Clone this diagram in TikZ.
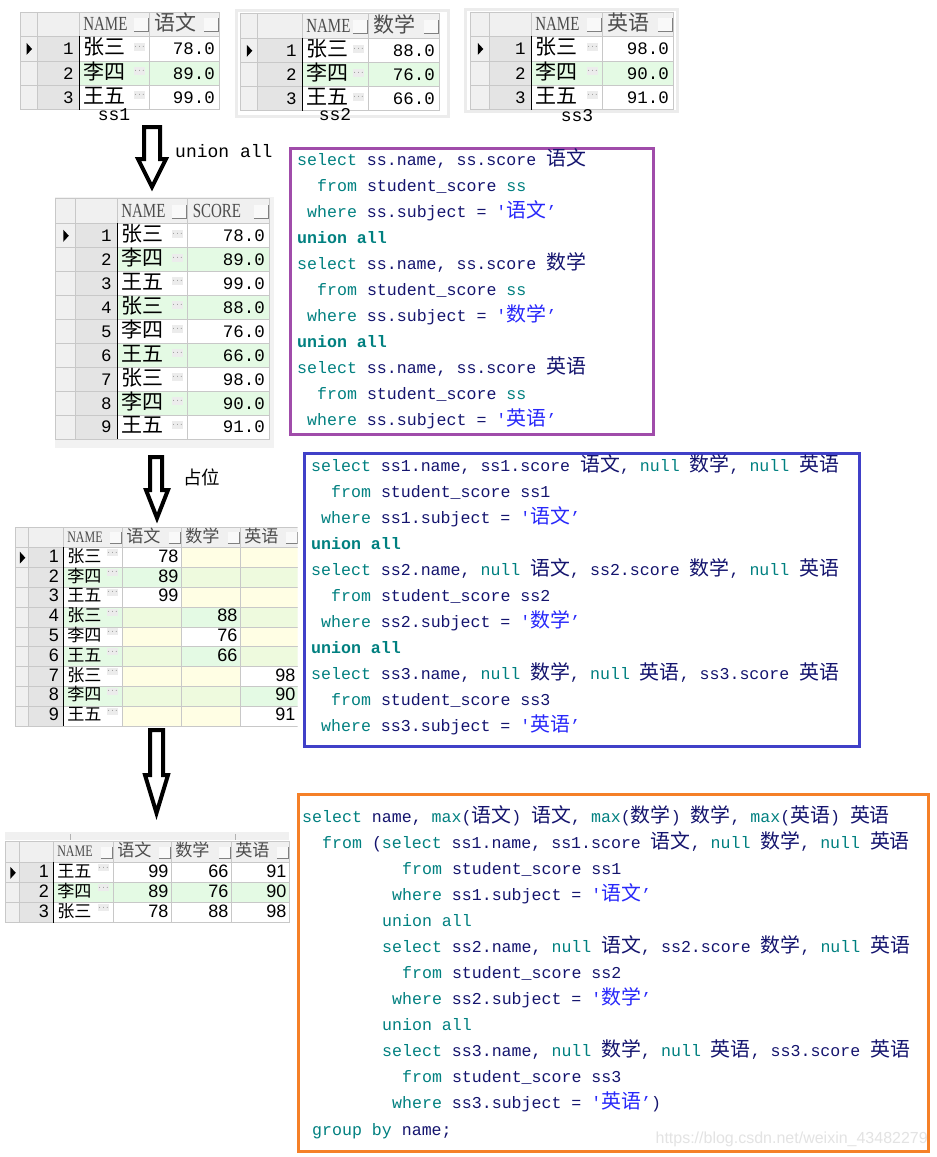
\documentclass[tikz,border=0pt]{standalone}
\usepackage{fontspec}
\usepackage{tikz}
\usetikzlibrary{matrix}
\setmainfont{Liberation Serif}
\newfontfamily\monof[Ligatures=TeXOff]{Liberation Mono}
\newfontfamily\sansf{Liberation Sans}
\newfontfamily\cjk[Scale=1.2]{Noto Sans CJK SC}
\newfontfamily\cjks[Scale=0.95]{Noto Sans CJK SC}
\newfontfamily\hdfont[FakeStretch=0.75]{Liberation Serif}

\definecolor{gridc}{RGB}{200,200,200}
\definecolor{hdrc}{RGB}{240,240,240}
\definecolor{indc}{RGB}{240,240,240}
\definecolor{numc}{RGB}{228,228,228}
\definecolor{rowg}{RGB}{228,250,228}
\definecolor{nully}{RGB}{255,254,228}
\definecolor{nullg}{RGB}{238,250,222}
\definecolor{kwc}{RGB}{0,128,128}
\definecolor{idc}{RGB}{20,20,110}
\definecolor{strc}{RGB}{40,40,250}
\definecolor{qpurple}{RGB}{160,76,170}
\definecolor{qblue}{RGB}{64,64,200}
\definecolor{qorange}{RGB}{245,128,40}

\newcommand{\zh}[1]{{\cjk #1}}
\newcommand{\zhs}[1]{{\cjks #1}}
\newcommand{\hd}[1]{{\hdfont\fontsize{20}{20}\selectfont #1}}
\newcommand{\hds}[1]{{\hdfont\fontsize{16}{16}\selectfont #1}}
\newcommand{\kw}[1]{\textcolor{kwc}{#1}}
\newcommand{\kwb}[1]{\textcolor{kwc}{\bfseries #1}}
\newcommand{\qs}[1]{\textcolor{strc}{'\zh{#1}’}}
\newcommand{\codefont}{\monof\fontsize{16.6}{26}\selectfont\frenchspacing}

% row marker, dark name border, header buttons, "..." buttons
\newcommand{\tabdeco}[4]{%
  \fill ([xshift=-2.5pt,yshift=6pt]#1-2-1.center) -- ([xshift=3pt]#1-2-1.center) -- ([xshift=-2.5pt,yshift=-6pt]#1-2-1.center) -- cycle;
  \draw[line width=1.2pt] (#1-2-3.north west) -- (#1-#2-3.south west);
  \foreach \cc in {3,...,#3}{\node[hbtn, anchor=east] (#1-b\cc) at ([xshift=-2pt]#1-1-\cc.east) {};
    \draw[gray] (#1-b\cc.south west) -| (#1-b\cc.north east);}
  \foreach \rr in {2,...,#2}\node[dotbtn, anchor=north east] (#1-d\rr) at ([xshift=-5pt,yshift=-#4pt]#1-\rr-3.north east) {$\cdots$};}

\tikzset{
  cell/.style={draw=gridc, fill=white, inner xsep=3pt, inner ysep=0pt, text height=16pt, text depth=4pt, align=left, anchor=center},
  navtab/.style={matrix of nodes, nodes in empty cells, inner sep=0pt, line width=0.8pt, column sep=-0.8pt, row sep=-0.8pt, nodes={cell}},
  bigtab/.style={navtab, nodes={font=\monof\fontsize{17.5}{20}\selectfont, minimum height=24.3pt},
    row 1/.style={nodes={fill=hdrc, text=black!70, align=left}}},
  smalltab/.style={navtab, nodes={font=\sansf\fontsize{18}{20}\selectfont, minimum height=19.8pt, text height=13pt, text depth=4pt},
    row 1/.style={nodes={fill=hdrc, text=black!70, align=left}}},
  hbtn/.style={fill=hdrc!40!white, minimum width=14pt, minimum height=13pt, inner sep=0pt},
  dotbtn/.style={fill=gray!15, inner sep=0.5pt, minimum width=10pt, minimum height=8pt, text height=3pt, text depth=0pt, font=\fontsize{7}{7}\selectfont},
  panel/.style={draw=gray!15, line width=3pt, fill=white, anchor=north west, inner sep=0pt},
  tname/.style={anchor=base, inner sep=0pt, font=\monof\fontsize{18}{18}\selectfont},
  blockarr/.style={draw=black, fill=white, line width=4pt, line join=miter},
  qbox/.style={line width=3pt, anchor=north west, inner sep=0pt},
  sql/.style={anchor=base west, inner sep=0pt, text=idc, font=\codefont},
}

\begin{document}
\begin{tikzpicture}[x=1pt, y=-1pt]
\fill[white] (0,0) rectangle (937,1157);
\useasboundingbox (0,0) rectangle (937,1157);

% --- the three source tables
\matrix (ss1) [bigtab, anchor=north west,
  column 1/.style={nodes={fill=indc, text width=10.5pt}},
  column 2/.style={nodes={fill=numc, text width=30pt, inner xsep=6.25pt, align=right}},
  column 3/.style={nodes={text width=63pt, inner xsep=3.5pt}},
  column 4/.style={nodes={text width=60pt, inner xsep=5pt, align=right}},
  row 1/.append style={nodes={minimum height=24pt}}] at (20,12) {
  & & \hd{NAME} & \zh{语文} \\
  & 1 & \zh{张三} & 78.0 \\
  & 2 & |[fill=rowg]| \zh{李四} & |[fill=rowg]| 89.0 \\
  & 3 & \zh{王五} & 99.0 \\
};
\tabdeco{ss1}{4}{4}{6}
\node[tname] (ss1-lbl) at (114,120) {ss1};

\node[panel, minimum width=212pt, minimum height=106pt] (ss2-bg) at (235,9) {};
\matrix (ss2) [bigtab, anchor=north west,
  column 1/.style={nodes={fill=indc, text width=11pt}},
  column 2/.style={nodes={fill=numc, text width=32.5pt, inner xsep=6.25pt, align=right}},
  column 3/.style={nodes={text width=59pt, inner xsep=3.5pt}},
  column 4/.style={nodes={text width=61pt, inner xsep=5pt, align=right}},
  nodes={minimum height=24pt}, row 1/.append style={nodes={minimum height=25pt}}] at (240,13) {
  & & \hd{NAME} & \zh{数学} \\
  & 1 & \zh{张三} & 88.0 \\
  & 2 & |[fill=rowg]| \zh{李四} & |[fill=rowg]| 76.0 \\
  & 3 & \zh{王五} & 66.0 \\
};
\tabdeco{ss2}{4}{4}{6}
\node[tname] (ss2-lbl) at (335,120) {ss2};

\node[panel, minimum width=212pt, minimum height=102pt] (ss3-bg) at (464,8) {};
\matrix (ss3) [bigtab, anchor=north west,
  column 1/.style={nodes={fill=indc, text width=13pt}},
  column 2/.style={nodes={fill=numc, text width=29.5pt, inner xsep=6.25pt, align=right}},
  column 3/.style={nodes={text width=64pt, inner xsep=3.5pt}},
  column 4/.style={nodes={text width=61pt, inner xsep=5pt, align=right}},
  row 1/.append style={nodes={minimum height=24pt}}] at (470,12) {
  & & \hd{NAME} & \zh{英语} \\
  & 1 & \zh{张三} & 98.0 \\
  & 2 & |[fill=rowg]| \zh{李四} & |[fill=rowg]| 90.0 \\
  & 3 & \zh{王五} & 91.0 \\
};
\tabdeco{ss3}{4}{4}{6}
\node[tname] (ss3-lbl) at (577,121) {ss3};

% --- step 1: union all
\draw[blockarr] (144,127) -- (160,127) -- (160,159) -- (166,159) -- (152,187) -- (138,159) -- (144,159) -- cycle;
\node[anchor=base west, inner sep=0pt, font=\monof\fontsize{18}{18}\selectfont] (lbl-union) at (175,157) {union all};

\node[panel, draw=none, fill=gray!10, minimum width=219pt, minimum height=251pt] (un-bg) at (53,195) {};
\matrix (un) [bigtab, anchor=north west,
  column 1/.style={nodes={fill=indc, text width=14pt}},
  column 2/.style={nodes={fill=numc, text width=29.5pt, inner xsep=6.25pt, align=right}},
  column 3/.style={nodes={text width=63pt, inner xsep=3.5pt}},
  column 4/.style={nodes={text width=72pt, inner xsep=5pt, align=right}},
  nodes={minimum height=23.9pt}, row 1/.append style={nodes={minimum height=25pt}}] at (55,198) {
  & & \hd{NAME} & \hd{SCORE} \\
  & 1 & \zh{张三} & 78.0 \\
  & 2 & |[fill=rowg]| \zh{李四} & |[fill=rowg]| 89.0 \\
  & 3 & \zh{王五} & 99.0 \\
  & 4 & |[fill=rowg]| \zh{张三} & |[fill=rowg]| 88.0 \\
  & 5 & \zh{李四} & 76.0 \\
  & 6 & |[fill=rowg]| \zh{王五} & |[fill=rowg]| 66.0 \\
  & 7 & \zh{张三} & 98.0 \\
  & 8 & |[fill=rowg]| \zh{李四} & |[fill=rowg]| 90.0 \\
  & 9 & \zh{王五} & 91.0 \\
};
\tabdeco{un}{10}{4}{6}

\node[qbox, draw=qpurple, minimum width=363pt, minimum height=286pt] (q1) at (289,147) {};
\node[sql] (q1-l1) at (297,165) {\kw{select} ss.name, ss.score \zh{语文}};
\node[sql] (q1-l2) at (317,191) {\kw{from} student\_score \kw{ss}};
\node[sql] (q1-l3) at (307,217) {\kw{where} ss.subject = \qs{语文}};
\node[sql] (q1-l4) at (297,243) {\kwb{union all}};
\node[sql] (q1-l5) at (297,269) {\kw{select} ss.name, ss.score \zh{数学}};
\node[sql] (q1-l6) at (317,295) {\kw{from} student\_score \kw{ss}};
\node[sql] (q1-l7) at (307,321) {\kw{where} ss.subject = \qs{数学}};
\node[sql] (q1-l8) at (297,347) {\kwb{union all}};
\node[sql] (q1-l9) at (297,373) {\kw{select} ss.name, ss.score \zh{英语}};
\node[sql] (q1-l10) at (317,399) {\kw{from} student\_score \kw{ss}};
\node[sql] (q1-l11) at (307,425) {\kw{where} ss.subject = \qs{英语}};

% --- step 2: placeholders
\draw[blockarr] (150,457) -- (162,457) -- (162,490) -- (168,490) -- (157,518) -- (146,490) -- (150,490) -- cycle;
\node[anchor=west, inner sep=0pt, font=\fontsize{15.4}{18}\selectfont] (lbl-pad) at (183,477) {\zh{占位}};

\begin{scope}[hbtn/.append style={minimum width=11pt, minimum height=11pt}, dotbtn/.append style={minimum width=9pt, minimum height=7pt}]
\begin{scope}
\clip (0,520) rectangle (297.5,730);
\matrix (pad) [smalltab, anchor=north west,
  column 1/.style={nodes={fill=indc, text width=7pt}},
  column 2/.style={nodes={fill=numc, text width=25pt, inner xsep=5pt, align=right}},
  column 3/.style={nodes={text width=52pt, inner xsep=3.5pt}},
  column 4/.style={nodes={text width=52pt, inner xsep=3.5pt, align=right}},
  column 5/.style={nodes={text width=52pt, inner xsep=3.5pt, align=right}},
  column 6/.style={nodes={text width=51pt, inner xsep=3.5pt, align=right}},
  row 1/.append style={nodes={minimum height=20pt}}] at (15,527) {
  & & \hds{NAME} & \zhs{语文} & \zhs{数学} & \zhs{英语} \\
  & 1 & \zhs{张三} & 78 & |[fill=nully]| & |[fill=nully]| \\
  & 2 & |[fill=rowg]| \zhs{李四} & |[fill=rowg]| 89 & |[fill=nullg]| & |[fill=nullg]| \\
  & 3 & \zhs{王五} & 99 & |[fill=nully]| & |[fill=nully]| \\
  & 4 & |[fill=rowg]| \zhs{张三} & |[fill=nullg]| & |[fill=rowg]| 88 & |[fill=nullg]| \\
  & 5 & \zhs{李四} & |[fill=nully]| & 76 & |[fill=nully]| \\
  & 6 & |[fill=rowg]| \zhs{王五} & |[fill=nullg]| & |[fill=rowg]| 66 & |[fill=nullg]| \\
  & 7 & \zhs{张三} & |[fill=nully]| & |[fill=nully]| & 98 \\
  & 8 & |[fill=rowg]| \zhs{李四} & |[fill=nullg]| & |[fill=nullg]| & |[fill=rowg]| 90 \\
  & 9 & \zhs{王五} & |[fill=nully]| & |[fill=nully]| & 91 \\
};
\tabdeco{pad}{10}{6}{1.5}
\end{scope}

\node[qbox, draw=qblue, minimum width=555pt, minimum height=293pt] (q2) at (303,452) {};
\node[sql] (q2-l1) at (311,471) {\kw{select} ss1.name, ss1.score \zh{语文}, \kw{null} \zh{数学}, \kw{null} \zh{英语}};
\node[sql] (q2-l2) at (331,497) {\kw{from} student\_score ss1};
\node[sql] (q2-l3) at (321,523) {\kw{where} ss1.subject = \qs{语文}};
\node[sql] (q2-l4) at (311,549) {\kwb{union all}};
\node[sql] (q2-l5) at (311,575) {\kw{select} ss2.name, \kw{null} \zh{语文}, ss2.score \zh{数学}, \kw{null} \zh{英语}};
\node[sql] (q2-l6) at (331,601) {\kw{from} student\_score ss2};
\node[sql] (q2-l7) at (321,627) {\kw{where} ss2.subject = \qs{数学}};
\node[sql] (q2-l8) at (311,653) {\kwb{union all}};
\node[sql] (q2-l9) at (311,679) {\kw{select} ss3.name, \kw{null} \zh{数学}, \kw{null} \zh{英语}, ss3.score \zh{英语}};
\node[sql] (q2-l10) at (331,705) {\kw{from} student\_score ss3};
\node[sql] (q2-l11) at (321,731) {\kw{where} ss3.subject = \qs{英语}};

% --- step 3: group by name, max()
\draw[blockarr] (150,730) -- (163,730) -- (163,775) -- (168,775) -- (156.5,813) -- (145,775) -- (150,775) -- cycle;

\fill[gray!12] (5,832) rectangle (289,840);
\draw[gray!60] (70,834) -- (70,840) (235,834) -- (235,840);
\matrix (res) [smalltab, anchor=north west,
  column 1/.style={nodes={fill=indc, text width=8pt}},
  column 2/.style={nodes={fill=numc, text width=24pt, inner xsep=5pt, align=right}},
  column 3/.style={nodes={text width=53pt, inner xsep=3.5pt}},
  column 4/.style={nodes={text width=51pt, inner xsep=3.5pt, align=right}},
  column 5/.style={nodes={text width=53pt, inner xsep=3.5pt, align=right}},
  column 6/.style={nodes={text width=51pt, inner xsep=3.5pt, align=right}},
  nodes={minimum height=20pt}, row 1/.append style={nodes={minimum height=21pt}}] at (5,841) {
  & & \hds{NAME} & \zhs{语文} & \zhs{数学} & \zhs{英语} \\
  & 1 & \zhs{王五} & 99 & 66 & 91 \\
  & 2 & |[fill=rowg]| \zhs{李四} & |[fill=rowg]| 89 & |[fill=rowg]| 76 & |[fill=rowg]| 90 \\
  & 3 & \zhs{张三} & 78 & 88 & 98 \\
};
\tabdeco{res}{4}{6}{1.5}
\end{scope}

\node[qbox, draw=qorange, minimum width=630pt, minimum height=357pt] (q3) at (297,793) {};
\node[sql] (q3-l1) at (302,822) {\kw{select} name, \kw{max}(\zh{语文}) \zh{语文}, \kw{max}(\zh{数学}) \zh{数学}, \kw{max}(\zh{英语}) \zh{英语}};
\node[sql] (q3-l2) at (322,848.1) {\kw{from} (\kw{select} ss1.name, ss1.score \zh{语文}, \kw{null} \zh{数学}, \kw{null} \zh{英语}};
\node[sql] (q3-l3) at (402,874.2) {\kw{from} student\_score ss1};
\node[sql] (q3-l4) at (392,900.2) {\kw{where} ss1.subject = \qs{语文}};
\node[sql] (q3-l5) at (382,926.3) {\kw{union all}};
\node[sql] (q3-l6) at (382,952.4) {\kw{select} ss2.name, \kw{null} \zh{语文}, ss2.score \zh{数学}, \kw{null} \zh{英语}};
\node[sql] (q3-l7) at (402,978.5) {\kw{from} student\_score ss2};
\node[sql] (q3-l8) at (392,1004.6) {\kw{where} ss2.subject = \qs{数学}};
\node[sql] (q3-l9) at (382,1030.6) {\kw{union all}};
\node[sql] (q3-l10) at (382,1056.7) {\kw{select} ss3.name, \kw{null} \zh{数学}, \kw{null} \zh{英语}, ss3.score \zh{英语}};
\node[sql] (q3-l11) at (402,1082.8) {\kw{from} student\_score ss3};
\node[sql] (q3-l12) at (392,1108.9) {\kw{where} ss3.subject = \qs{英语})};
\node[sql] (q3-l13) at (312,1135) {\kw{group by} name;};

\node[anchor=east, inner sep=0pt, text=gray!22, font=\sansf\fontsize{16}{16}\selectfont] (wm) at (928,1139) {https://blog.csdn.net/weixin\_43482279};
\end{tikzpicture}
\end{document}
